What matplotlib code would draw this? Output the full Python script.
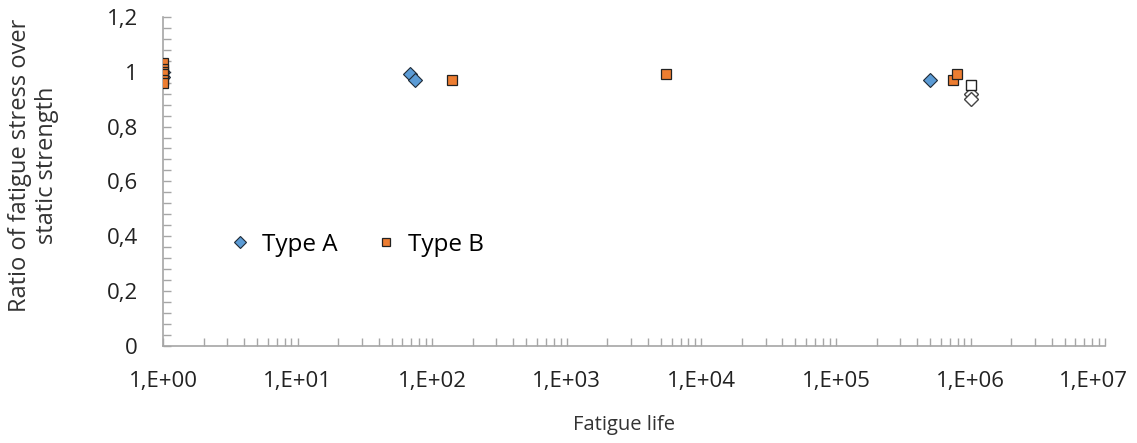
import matplotlib.pyplot as plt
import numpy as np
from matplotlib.ticker import FixedLocator, FuncFormatter, NullFormatter
from matplotlib.transforms import ScaledTranslation

plt.rcParams['font.family'] = ['Open Sans', 'DejaVu Sans']

# Type A (filled diamonds)
a_life  = [1, 1, 68, 75, 5.0e5]
a_ratio = [1.00, 0.98, 0.99, 0.97, 0.97]
# Type B (filled squares)
b_life  = [1, 1, 1, 1, 1, 1, 140, 5500, 7.4e5, 7.9e5]
b_ratio = [1.03, 1.01, 1.00, 0.99, 0.97, 0.96, 0.97, 0.99, 0.97, 0.99]
# run-outs (open markers)
ra_life  = [1e6, 1e6]
ra_ratio = [0.92, 0.90]
rb_life  = [1e6]
rb_ratio = [0.95]

y_ticks = [0, 0.2, 0.4, 0.6, 0.8, 1.0, 1.2]
y_labels = ['0', '0,2', '0,4', '0,6', '0,8', '1', '1,2']
x_decades = [1, 1e1, 1e2, 1e3, 1e4, 1e5, 1e6, 1e7]

fig = plt.figure(figsize=(11.37, 4.43), dpi=100)
ax = fig.add_axes([0.1434, 0.219, 0.8286, 0.743])

blue = '#5B9BD5'
orange = '#ED7D31'
ax.plot(a_life, a_ratio, 'D', ms=7.5, mfc=blue, mec='#1f2a36', mew=0.8, ls='none', label='Type A', zorder=3)
ax.plot(b_life, b_ratio, 's', ms=7.5, mfc=orange, mec='#222222', mew=0.9, ls='none', label='Type B', zorder=4)
ax.plot(ra_life, ra_ratio, 'D', ms=7.5, mfc='white', mec='#444444', mew=1.0, ls='none', zorder=3)
ax.plot(rb_life, rb_ratio, 's', ms=7.5, mfc='white', mec='#222222', mew=1.0, ls='none', zorder=3)

ax.set_xscale('log')
ax.set_xlim(1, 1e7)
ax.set_ylim(0, 1.2)

ax.xaxis.set_major_locator(FixedLocator(x_decades))
ax.xaxis.set_major_formatter(FuncFormatter(lambda v, p: '1,E+%02d' % int(round(np.log10(v)))))
minors = [m * 10**d for d in range(7) for m in range(2, 10)]
ax.xaxis.set_minor_locator(FixedLocator(minors))
ax.xaxis.set_minor_formatter(NullFormatter())

ax.yaxis.set_major_locator(FixedLocator(y_ticks))
ax.set_yticklabels(y_labels)
ax.yaxis.set_minor_locator(FixedLocator(np.arange(0, 1.201, 0.04)))

for s in ['top', 'right']:
    ax.spines[s].set_visible(False)
for s in ['left', 'bottom']:
    ax.spines[s].set_color('#a6a6a6')
    ax.spines[s].set_linewidth(1.2)

ax.tick_params(axis='both', which='both', direction='in', color='#a6a6a6', width=1.0, length=6,
               labelsize=16, labelcolor='#222222')
ax.tick_params(axis='x', which='major', pad=18)
ax.tick_params(axis='y', which='major', pad=18)

# last x label sits a bit left of its tick, as in the original
fig.canvas.draw()
last = ax.xaxis.get_major_ticks()[-1].label1
last.set_transform(last.get_transform() + ScaledTranslation(-0.12, 0, fig.dpi_scale_trans))

ax.set_xlabel('Fatigue life', fontsize=14.5, color='#333333')
ax.xaxis.set_label_coords(0.489, -0.21)
ax.set_ylabel('Ratio of fatigue stress over\nstatic strength', fontsize=17, color='#333333')
ax.yaxis.set_label_coords(-0.11, 0.55)

ax.legend(loc='center', bbox_to_anchor=(0.205, 0.307), ncol=2, frameon=False, fontsize=17.5,
          handlelength=1.0, handletextpad=0.4, columnspacing=1.5, markerscale=0.8)

plt.savefig('out.png', dpi=100)
